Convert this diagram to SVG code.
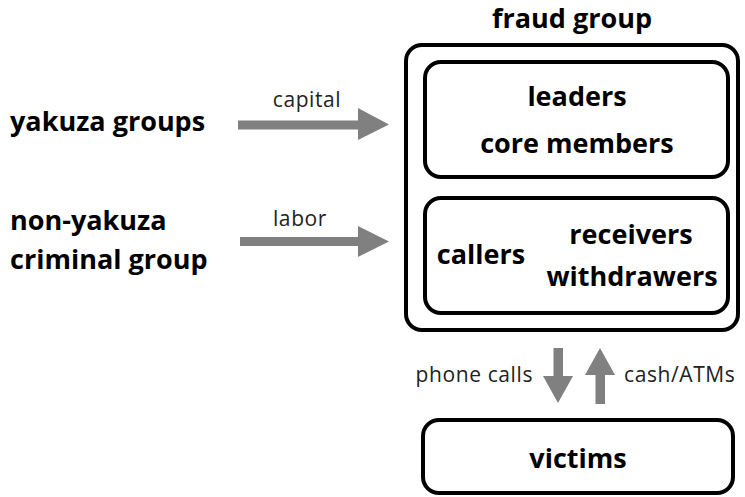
<svg xmlns="http://www.w3.org/2000/svg" width="745" height="497" viewBox="0 0 745 497">
<style>
.box{fill:#fff;stroke:#000;stroke-width:4}
.b{font-family:"Open Sans","Noto Sans",sans-serif;font-weight:700;font-size:27px;fill:#000}
.l{font-family:"Open Sans","Noto Sans",sans-serif;font-weight:400;font-size:21px;letter-spacing:0.6px;fill:#222}
.arr{fill:#808080}
</style>
<rect width="745" height="497" fill="#fff"/>
<g id="fraud-group">
<rect class="box" x="406" y="45" width="332" height="285" rx="16"/>
<text class="b" x="572" y="28" text-anchor="middle">fraud group</text>
</g>
<g id="leaders">
<rect class="box" x="425" y="62" width="303" height="115" rx="16"/>
<text class="b" x="577" y="106" text-anchor="middle">leaders</text>
<text class="b" x="577" y="153" text-anchor="middle">core members</text>
</g>
<g id="callers">
<rect class="box" x="425" y="198" width="303" height="115" rx="16"/>
<text class="b" x="481" y="264" text-anchor="middle">callers</text>
<text class="b" x="631" y="244" text-anchor="middle">receivers</text>
<text class="b" x="632" y="286" text-anchor="middle">withdrawers</text>
</g>
<g id="victims">
<rect class="box" x="423" y="420" width="310" height="73" rx="16"/>
<text class="b" x="578" y="468" text-anchor="middle">victims</text>
</g>
<g id="yakuza">
<text class="b" x="10" y="131">yakuza groups</text>
</g>
<g id="non-yakuza">
<text class="b" x="10" y="230">non-yakuza</text>
<text class="b" x="10" y="269">criminal group</text>
</g>
<g id="connectors">
<polygon class="arr" points="238,120.5 358,120.5 358,108 389,124.5 358,140 358,129.5 238,129.5"/>
<text class="l" x="307" y="107" text-anchor="middle">capital</text>
<polygon class="arr" points="240,237 358,237 358,226 389,241.5 358,257 358,246 240,246"/>
<text class="l" x="300" y="226" text-anchor="middle">labor</text>
<polygon class="arr" points="553.5,348 563,348 563,376 573,376 558,403 543,376 553.5,376"/>
<text class="l" x="533" y="382" text-anchor="end">phone calls</text>
<polygon class="arr" points="600,348 615,375 605,375 605,404 595.5,404 595.5,375 585,375"/>
<text class="l" x="624" y="382">cash/ATMs</text>
</g>
</svg>
